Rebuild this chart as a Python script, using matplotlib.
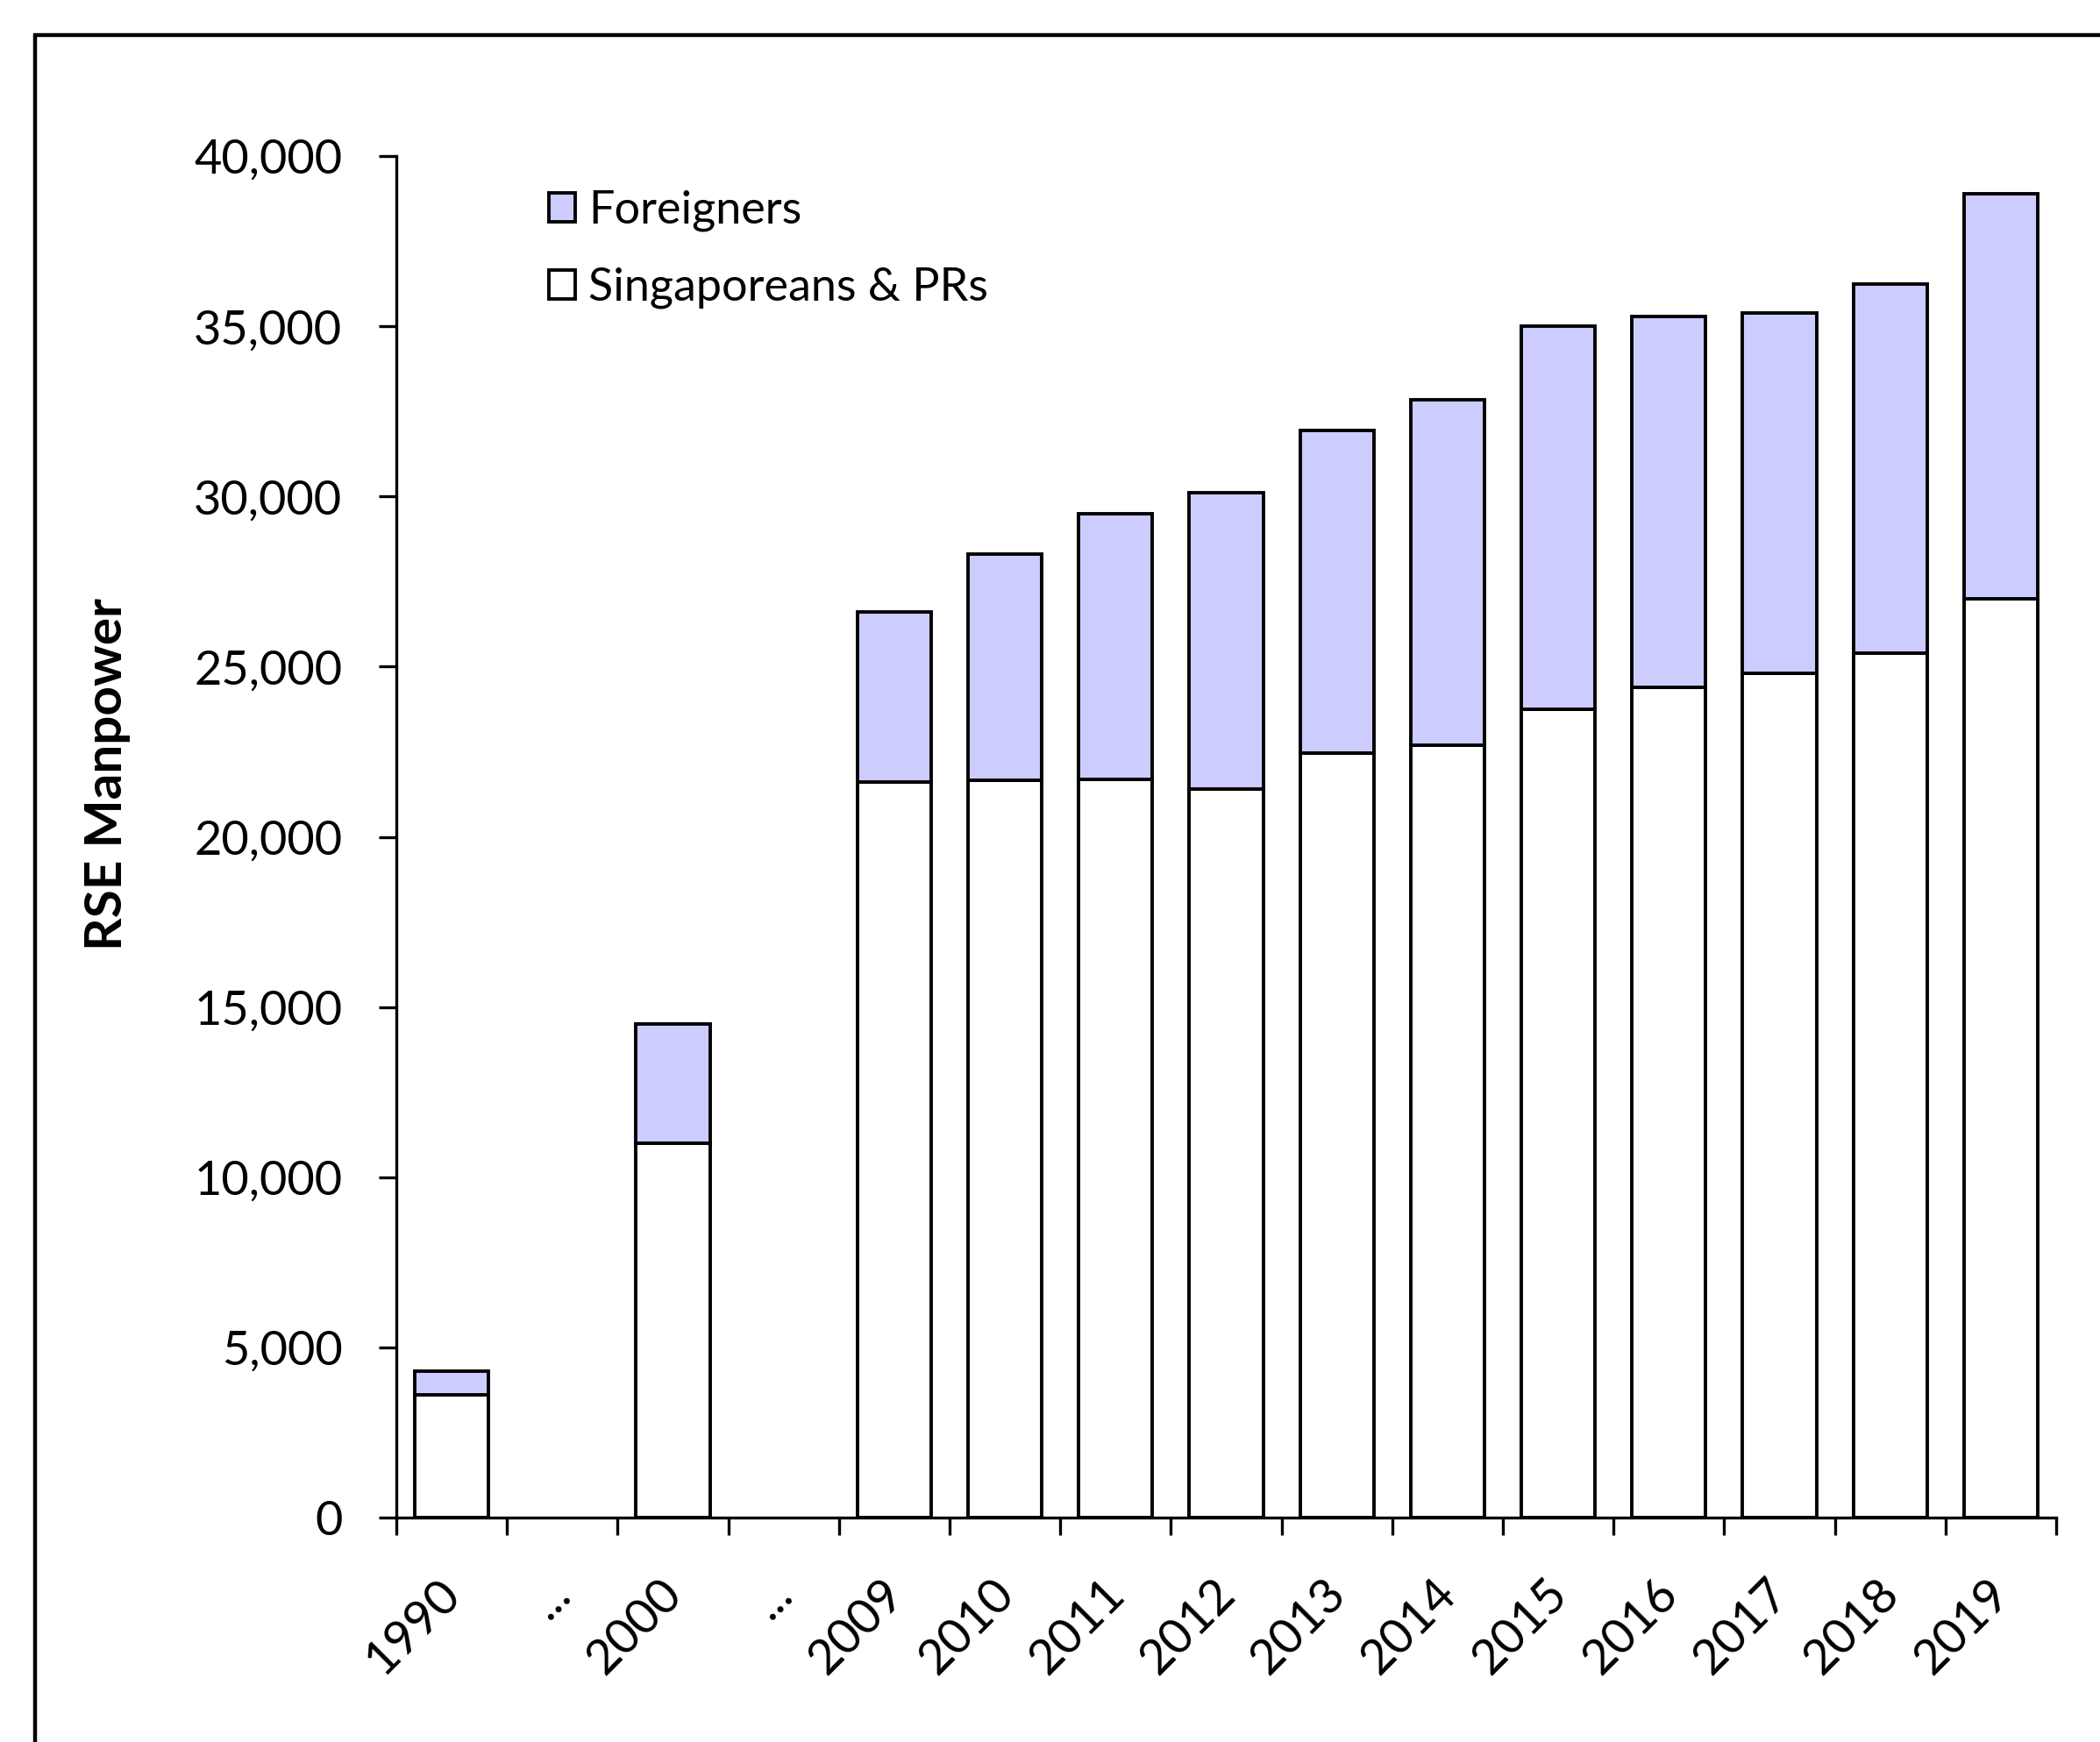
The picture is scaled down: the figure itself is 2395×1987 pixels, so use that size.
import matplotlib
matplotlib.use('Agg')
import matplotlib.pyplot as plt
from matplotlib.patches import Rectangle
from matplotlib.ticker import FuncFormatter
from matplotlib.transforms import ScaledTranslation

# category slots along the x axis ('...' marks skipped years)
slots = ['1990', '...', '2000', '...', '2009', '2010', '2011', '2012',
         '2013', '2014', '2015', '2016', '2017', '2018', '2019']
years = ['1990', '2000', '2009', '2010', '2011', '2012', '2013',
         '2014', '2015', '2016', '2017', '2018', '2019']
# RSE manpower by residency status
locals_prs = [3600, 11000, 21600, 21650, 21700, 21400, 22450,
              22700, 23750, 24400, 24800, 25400, 27000]
foreigners = [700, 3500, 5000, 6650, 7800, 8700, 9500,
              10150, 11250, 10900, 10600, 10850, 11900]
yticks = [0, 5000, 10000, 15000, 20000, 25000, 30000, 35000, 40000]

plt.rcParams['font.family'] = ['Lato', 'DejaVu Sans']
FS = 39

fig = plt.figure(figsize=(23.95, 19.87), dpi=100)
ax = fig.add_axes([0.1887, 0.1288, 0.7904, 0.7816])

x = [slots.index(y) for y in years]
b_loc = ax.bar(x, locals_prs, width=0.667, color='white',
               edgecolor='black', linewidth=2.8)
b_for = ax.bar(x, foreigners, bottom=locals_prs, width=0.667,
               color='#ccccff', edgecolor='black', linewidth=2.8)

ax.set_xlim(-0.5, len(slots) - 0.5)
ax.set_ylim(0, 40000)

for s in ['top', 'right']:
    ax.spines[s].set_visible(False)
for s in ['left', 'bottom']:
    ax.spines[s].set_linewidth(2.4)

# y axis
ax.set_yticks(yticks)
ax.yaxis.set_major_formatter(FuncFormatter(lambda v, p: f'{int(v):,}'))
ax.tick_params(axis='y', direction='out', length=14.4, width=2.4,
               pad=30, labelsize=FS)
ax.set_ylabel('RSE Manpower', fontsize=42, fontweight='bold')
ax.yaxis.set_label_coords(-0.16, 0.546)

# x axis: ticks on category boundaries, labels at category centres
ax.set_xticks([i - 0.5 for i in range(len(slots) + 1)])
ax.set_xticklabels([])
ax.tick_params(axis='x', which='major', direction='out', length=14.4,
               width=2.4)
ax.set_xticks(range(len(slots)), minor=True)
ax.set_xticklabels(slots, minor=True, rotation=45, ha='right', va='top',
                   fontsize=40)
ax.tick_params(axis='x', which='minor', length=0, pad=44)
shift = ScaledTranslation(0.2, 0, fig.dpi_scale_trans)
for lab in ax.xaxis.get_minorticklabels():
    lab.set_transform(lab.get_transform() + shift)

ax.legend([b_for, b_loc], ['Foreigners', 'Singaporeans & PRs'],
          loc='upper left', bbox_to_anchor=(0.092, 0.975),
          frameon=False, fontsize=37.5, borderaxespad=0, borderpad=0,
          handlelength=0.58, handleheight=0.58, handletextpad=0.28,
          labelspacing=0.78)

# outer chart-area border
fig.add_artist(Rectangle((40 / 2395, -0.1), 1.2, 1.0 - 40 / 1987 + 0.1,
                         transform=fig.transFigure, fill=False,
                         edgecolor='black', linewidth=3.2))

fig.savefig('out.png', dpi=100)
